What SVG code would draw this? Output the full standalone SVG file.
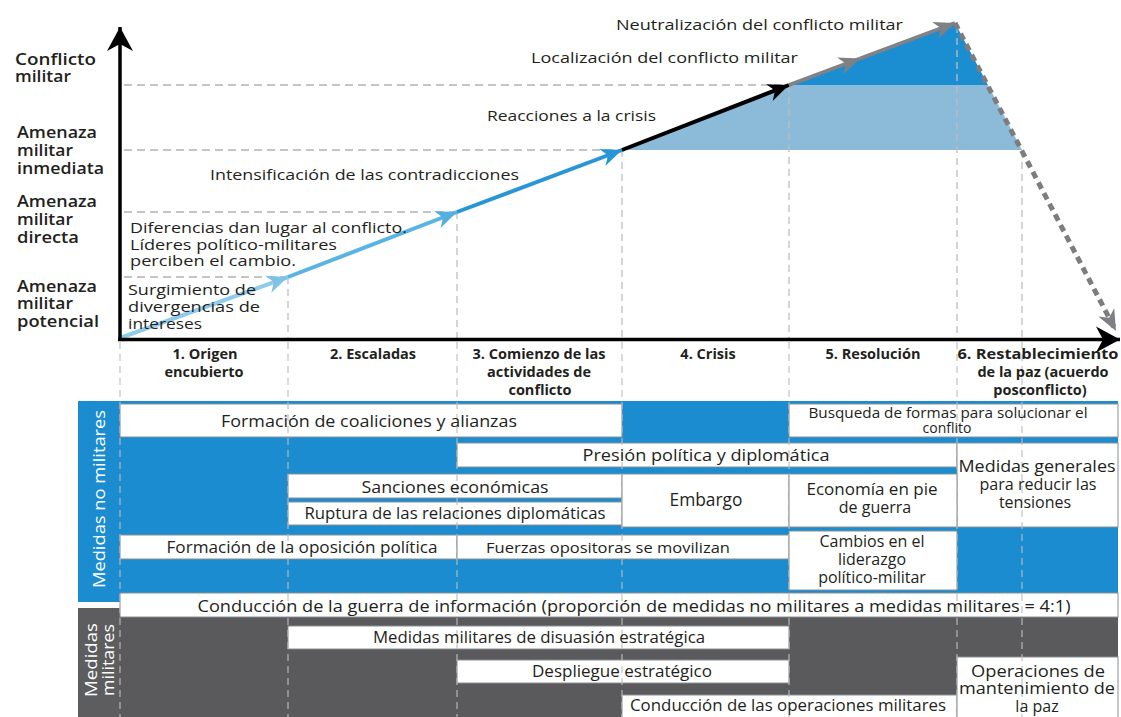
<svg xmlns="http://www.w3.org/2000/svg" width="1121" height="717" viewBox="0 0 1121 717">
<defs>
<style>
text { font-family: "Open Sans", "DejaVu Sans", sans-serif; fill: #231f20; }
.ax { font-size: 16px; font-weight: 600; }
.lb { font-size: 15px; }
.ph { font-size: 14.5px; font-weight: 700; text-anchor: middle; }
.tb { font-size: 16px; text-anchor: middle; }
.wb { fill: #ffffff; stroke: #8a8f93; stroke-width: 1; }
.grid { stroke: #b3b3b3; stroke-width: 1.5; stroke-dasharray: 8 5; fill: none; }
.vgrid { stroke: #bdbdbd; stroke-width: 1.3; stroke-dasharray: 7 5; fill: none; }
.side { fill: #ffffff; font-size: 16px; text-anchor: middle; }
.seg { stroke-width: 4; fill: none; stroke-linecap: butt; }
</style>
<marker id="m1" markerUnits="userSpaceOnUse" viewBox="-22 -10 24 20" refX="0" refY="0" markerWidth="24" markerHeight="20" orient="auto"><path d="M0,0 L-21,-9 L-15,0 L-21,9 Z" fill="#7ec2e8"/></marker>
<marker id="m2" markerUnits="userSpaceOnUse" viewBox="-22 -10 24 20" refX="0" refY="0" markerWidth="24" markerHeight="20" orient="auto"><path d="M0,0 L-21,-9 L-15,0 L-21,9 Z" fill="#52afe0"/></marker>
<marker id="m3" markerUnits="userSpaceOnUse" viewBox="-22 -10 24 20" refX="0" refY="0" markerWidth="24" markerHeight="20" orient="auto"><path d="M0,0 L-21,-9 L-15,0 L-21,9 Z" fill="#2596d6"/></marker>
<marker id="m4" markerUnits="userSpaceOnUse" viewBox="-22 -10 24 20" refX="0" refY="0" markerWidth="24" markerHeight="20" orient="auto"><path d="M0,0 L-21,-9 L-15,0 L-21,9 Z" fill="#000000"/></marker>
<marker id="m5" markerUnits="userSpaceOnUse" viewBox="-22 -10 24 20" refX="0" refY="0" markerWidth="24" markerHeight="20" orient="auto"><path d="M0,0 L-21,-9 L-15,0 L-21,9 Z" fill="#7f8083"/></marker>
<marker id="mAx" markerUnits="userSpaceOnUse" viewBox="-26 -14 28 28" refX="0" refY="0" markerWidth="28" markerHeight="28" orient="auto"><path d="M0,0 L-24,-13 L-17,0 L-24,13 Z" fill="#000000"/></marker>
</defs>
<rect x="0" y="0" width="1121" height="717" fill="#ffffff"/>

<!-- chart bands -->
<g id="bands">
<polygon points="622,150 789,85 988,85 1022,150" fill="#8cbbd9"/>
<polygon points="789,85 955,23 988,85" fill="#1b8dd1"/>
</g>

<!-- grid -->
<g id="grid">
<line class="grid" x1="124" y1="85" x2="789" y2="85"/>
<line class="grid" x1="124" y1="150" x2="622" y2="150"/>
<line class="grid" x1="124" y1="212" x2="457" y2="212"/>
<line class="grid" x1="124" y1="277" x2="288" y2="277"/>
<line class="vgrid" x1="288" y1="277" x2="288" y2="338"/>
<line class="vgrid" x1="457" y1="212" x2="457" y2="338"/>
<line class="vgrid" x1="622" y1="150" x2="622" y2="338"/>
<line class="vgrid" x1="789" y1="85" x2="789" y2="338"/>
<line class="vgrid" x1="957" y1="26" x2="957" y2="338"/>
<line class="vgrid" x1="1022" y1="150" x2="1022" y2="338"/>
</g>

<!-- table background -->
<g id="table-bg">
<rect x="120" y="401" width="998" height="192" fill="#1b8ccf"/>
<rect x="120" y="617" width="998" height="100" fill="#5a5a5c"/>
</g>

<g id="side-no-militares">
<rect x="78" y="401" width="42" height="201" fill="#1b8ccf"/>
<text class="side" transform="translate(105,499) rotate(-90)" textLength="178" lengthAdjust="spacingAndGlyphs">Medidas no militares</text>
</g>
<g id="side-militares">
<rect x="78" y="608" width="42" height="109" fill="#5d5d5f"/>
<text class="side" transform="translate(97,660) rotate(-90)" textLength="74" lengthAdjust="spacingAndGlyphs">Medidas</text>
<text class="side" transform="translate(114,660) rotate(-90)" textLength="72" lengthAdjust="spacingAndGlyphs">militares</text>
</g>

<!-- white boxes -->
<g id="box-coaliciones"><rect class="wb" x="120" y="404" width="502" height="33"/></g>
<g id="box-busqueda"><rect class="wb" x="789" y="404" width="329" height="33"/></g>
<g id="box-presion"><rect class="wb" x="457" y="443" width="500" height="24"/></g>
<g id="box-medidas-generales"><rect class="wb" x="957" y="443" width="161" height="84"/></g>
<g id="box-sanciones"><rect class="wb" x="288" y="474" width="334" height="24"/></g>
<g id="box-ruptura"><rect class="wb" x="288" y="502" width="334" height="23"/></g>
<g id="box-embargo"><rect class="wb" x="622" y="474" width="167" height="53"/></g>
<g id="box-economia"><rect class="wb" x="789" y="474" width="168" height="53"/></g>
<g id="box-oposicion"><rect class="wb" x="120" y="535" width="337" height="24"/></g>
<g id="box-fuerzas"><rect class="wb" x="457" y="535" width="332" height="24"/></g>
<g id="box-cambios"><rect class="wb" x="789" y="531" width="168" height="59"/></g>
<g id="box-info"><rect class="wb" x="120" y="593" width="998" height="24"/></g>
<g id="box-disuasion"><rect class="wb" x="288" y="626" width="501" height="23"/></g>
<g id="box-despliegue"><rect class="wb" x="457" y="660" width="332" height="23"/></g>
<g id="box-operaciones"><rect class="wb" x="622" y="695" width="335" height="23"/></g>
<g id="box-mantenimiento"><rect class="wb" x="957" y="657" width="161" height="61"/></g>

<!-- vertical dashed lines through header and table -->
<g id="table-grid" opacity="0.85">
<line class="vgrid" x1="120" y1="342" x2="120" y2="717"/>
<line class="vgrid" x1="288" y1="342" x2="288" y2="717"/>
<line class="vgrid" x1="457" y1="342" x2="457" y2="717"/>
<line class="vgrid" x1="622" y1="342" x2="622" y2="717"/>
<line class="vgrid" x1="789" y1="342" x2="789" y2="717"/>
<line class="vgrid" x1="957" y1="342" x2="957" y2="717"/>
<line class="vgrid" x1="1022" y1="342" x2="1022" y2="717"/>
</g>

<!-- connectors: the escalation line -->
<g id="connectors">
<line class="seg" x1="120" y1="338" x2="288" y2="277" stroke="#8fcbeb" marker-end="url(#m1)"/>
<line class="seg" x1="288" y1="277" x2="457" y2="212" stroke="#5ab4e3" marker-end="url(#m2)"/>
<line class="seg" x1="457" y1="212" x2="622" y2="150" stroke="#2896d6" marker-end="url(#m3)"/>
<line class="seg" x1="622" y1="150" x2="789" y2="85" stroke="#000000" marker-end="url(#m4)"/>
<line class="seg" x1="789" y1="85" x2="860" y2="58.5" stroke="#808285" marker-end="url(#m5)"/>
<line class="seg" x1="860" y1="58.5" x2="955" y2="23" stroke="#808285" marker-end="url(#m5)"/>
<line x1="955" y1="23" x2="1116" y2="331" stroke="#7d7d7f" stroke-width="5" stroke-dasharray="7 5" fill="none" marker-end="url(#m5)"/>
</g>

<!-- axes -->
<g id="axes">
<line x1="120" y1="341" x2="120" y2="27" stroke="#000" stroke-width="3.5" marker-end="url(#mAx)"/>
<line x1="118" y1="339.5" x2="1120" y2="339.5" stroke="#000" stroke-width="3.5" marker-end="url(#mAx)"/>
</g>

<!-- y axis labels -->
<g id="ylabel-conflicto">
<text class="ax" x="15" y="65" textLength="81" lengthAdjust="spacingAndGlyphs">Conflicto</text>
<text class="ax" x="15" y="82" textLength="56" lengthAdjust="spacingAndGlyphs">militar</text>
</g>
<g id="ylabel-inmediata">
<text class="ax" x="17" y="138" textLength="80" lengthAdjust="spacingAndGlyphs">Amenaza</text>
<text class="ax" x="17" y="156" textLength="56" lengthAdjust="spacingAndGlyphs">militar</text>
<text class="ax" x="17" y="174" textLength="87" lengthAdjust="spacingAndGlyphs">inmediata</text>
</g>
<g id="ylabel-directa">
<text class="ax" x="17" y="207" textLength="80" lengthAdjust="spacingAndGlyphs">Amenaza</text>
<text class="ax" x="17" y="225" textLength="56" lengthAdjust="spacingAndGlyphs">militar</text>
<text class="ax" x="17" y="243" textLength="62" lengthAdjust="spacingAndGlyphs">directa</text>
</g>
<g id="ylabel-potencial">
<text class="ax" x="17" y="292" textLength="80" lengthAdjust="spacingAndGlyphs">Amenaza</text>
<text class="ax" x="17" y="309" textLength="56" lengthAdjust="spacingAndGlyphs">militar</text>
<text class="ax" x="17" y="327" textLength="82" lengthAdjust="spacingAndGlyphs">potencial</text>
</g>

<!-- chart labels -->
<g id="lbl-neutralizacion"><text class="lb" x="616" y="30" textLength="287" lengthAdjust="spacingAndGlyphs">Neutralización del conflicto militar</text></g>
<g id="lbl-localizacion"><text class="lb" x="531" y="63" textLength="267" lengthAdjust="spacingAndGlyphs">Localización del conflicto militar</text></g>
<g id="lbl-reacciones"><text class="lb" x="487" y="121" textLength="169" lengthAdjust="spacingAndGlyphs">Reacciones a la crisis</text></g>
<g id="lbl-intensificacion"><text class="lb" x="210" y="180" textLength="309" lengthAdjust="spacingAndGlyphs">Intensificación de las contradicciones</text></g>
<g id="lbl-diferencias">
<text class="lb" x="130" y="233" textLength="277" lengthAdjust="spacingAndGlyphs">Diferencias dan lugar al conflicto.</text>
<text class="lb" x="130" y="250" textLength="207" lengthAdjust="spacingAndGlyphs">Líderes político-militares</text>
<text class="lb" x="130" y="266" textLength="166" lengthAdjust="spacingAndGlyphs">perciben el cambio.</text>
</g>
<g id="lbl-surgimiento">
<text class="lb" x="128" y="295" textLength="128" lengthAdjust="spacingAndGlyphs">Surgimiento de</text>
<text class="lb" x="128" y="312" textLength="132" lengthAdjust="spacingAndGlyphs">divergencias de</text>
<text class="lb" x="128" y="329" textLength="74" lengthAdjust="spacingAndGlyphs">intereses</text>
</g>

<!-- phase labels -->
<g id="phase-1"><text class="ph" x="205" y="359">1. Origen</text><text class="ph" x="204" y="377">encubierto</text></g>
<g id="phase-2"><text class="ph" x="373" y="359">2. Escaladas</text></g>
<g id="phase-3"><text class="ph" x="539" y="359">3. Comienzo de las</text><text class="ph" x="539" y="377">actividades de</text><text class="ph" x="540" y="395">conflicto</text></g>
<g id="phase-4"><text class="ph" x="708" y="359">4. Crisis</text></g>
<g id="phase-5"><text class="ph" x="873" y="359">5. Resolución</text></g>
<g id="phase-6"><text class="ph" x="1038" y="359" textLength="161" lengthAdjust="spacingAndGlyphs">6. Restablecimiento</text><text class="ph" x="1043" y="377">de la paz (acuerdo</text><text class="ph" x="1040" y="395">posconflicto)</text></g>

<!-- table texts -->
<g id="txt-coaliciones"><text class="tb" x="369" y="427" textLength="296" lengthAdjust="spacingAndGlyphs">Formación de coaliciones y alianzas</text></g>
<g id="txt-busqueda"><text class="tb" x="948" y="418" style="font-size:14px" textLength="279" lengthAdjust="spacingAndGlyphs">Busqueda de formas para solucionar el</text><text class="tb" x="947" y="433" style="font-size:14px">conflito</text></g>
<g id="txt-presion"><text class="tb" x="706" y="461" textLength="247" lengthAdjust="spacingAndGlyphs">Presión política y diplomática</text></g>
<g id="txt-sanciones"><text class="tb" x="455" y="493" textLength="187" lengthAdjust="spacingAndGlyphs">Sanciones económicas</text></g>
<g id="txt-ruptura"><text class="tb" x="455" y="519" textLength="301" lengthAdjust="spacingAndGlyphs">Ruptura de las relaciones diplomáticas</text></g>
<g id="txt-embargo"><text class="tb" x="706" y="506" style="font-size:18px" textLength="73" lengthAdjust="spacingAndGlyphs">Embargo</text></g>
<g id="txt-economia"><text class="tb" x="872" y="495" textLength="131" lengthAdjust="spacingAndGlyphs">Economía en pie</text><text class="tb" x="875" y="513">de guerra</text></g>
<g id="txt-medidas-generales"><text class="tb" x="1037" y="472" textLength="157" lengthAdjust="spacingAndGlyphs">Medidas generales</text><text class="tb" x="1038" y="490" textLength="117" lengthAdjust="spacingAndGlyphs">para reducir las</text><text class="tb" x="1035" y="508">tensiones</text></g>
<g id="txt-oposicion"><text class="tb" x="302" y="553" textLength="271" lengthAdjust="spacingAndGlyphs">Formación de la oposición política</text></g>
<g id="txt-fuerzas"><text class="tb" x="608" y="553" style="font-size:14px" textLength="244" lengthAdjust="spacingAndGlyphs">Fuerzas opositoras se movilizan</text></g>
<g id="txt-cambios"><text class="tb" x="872" y="547">Cambios en el</text><text class="tb" x="872" y="565">liderazgo</text><text class="tb" x="872" y="583">político-militar</text></g>
<g id="txt-info"><text class="tb" x="634" y="612" style="font-size:17px" textLength="873" lengthAdjust="spacingAndGlyphs">Conducción de la guerra de información (proporción de medidas no militares a medidas militares = 4:1)</text></g>
<g id="txt-disuasion"><text class="tb" x="539" y="643" textLength="332" lengthAdjust="spacingAndGlyphs">Medidas militares de disuasión estratégica</text></g>
<g id="txt-despliegue"><text class="tb" x="622" y="677" textLength="180" lengthAdjust="spacingAndGlyphs">Despliegue estratégico</text></g>
<g id="txt-operaciones"><text class="tb" x="788" y="711" textLength="316" lengthAdjust="spacingAndGlyphs">Conducción de las operaciones militares</text></g>
<g id="txt-mantenimiento"><text class="tb" x="1038" y="677" textLength="134" lengthAdjust="spacingAndGlyphs">Operaciones de</text><text class="tb" x="1037" y="694" textLength="156" lengthAdjust="spacingAndGlyphs">mantenimiento de</text><text class="tb" x="1037" y="712">la paz</text></g>
</svg>
